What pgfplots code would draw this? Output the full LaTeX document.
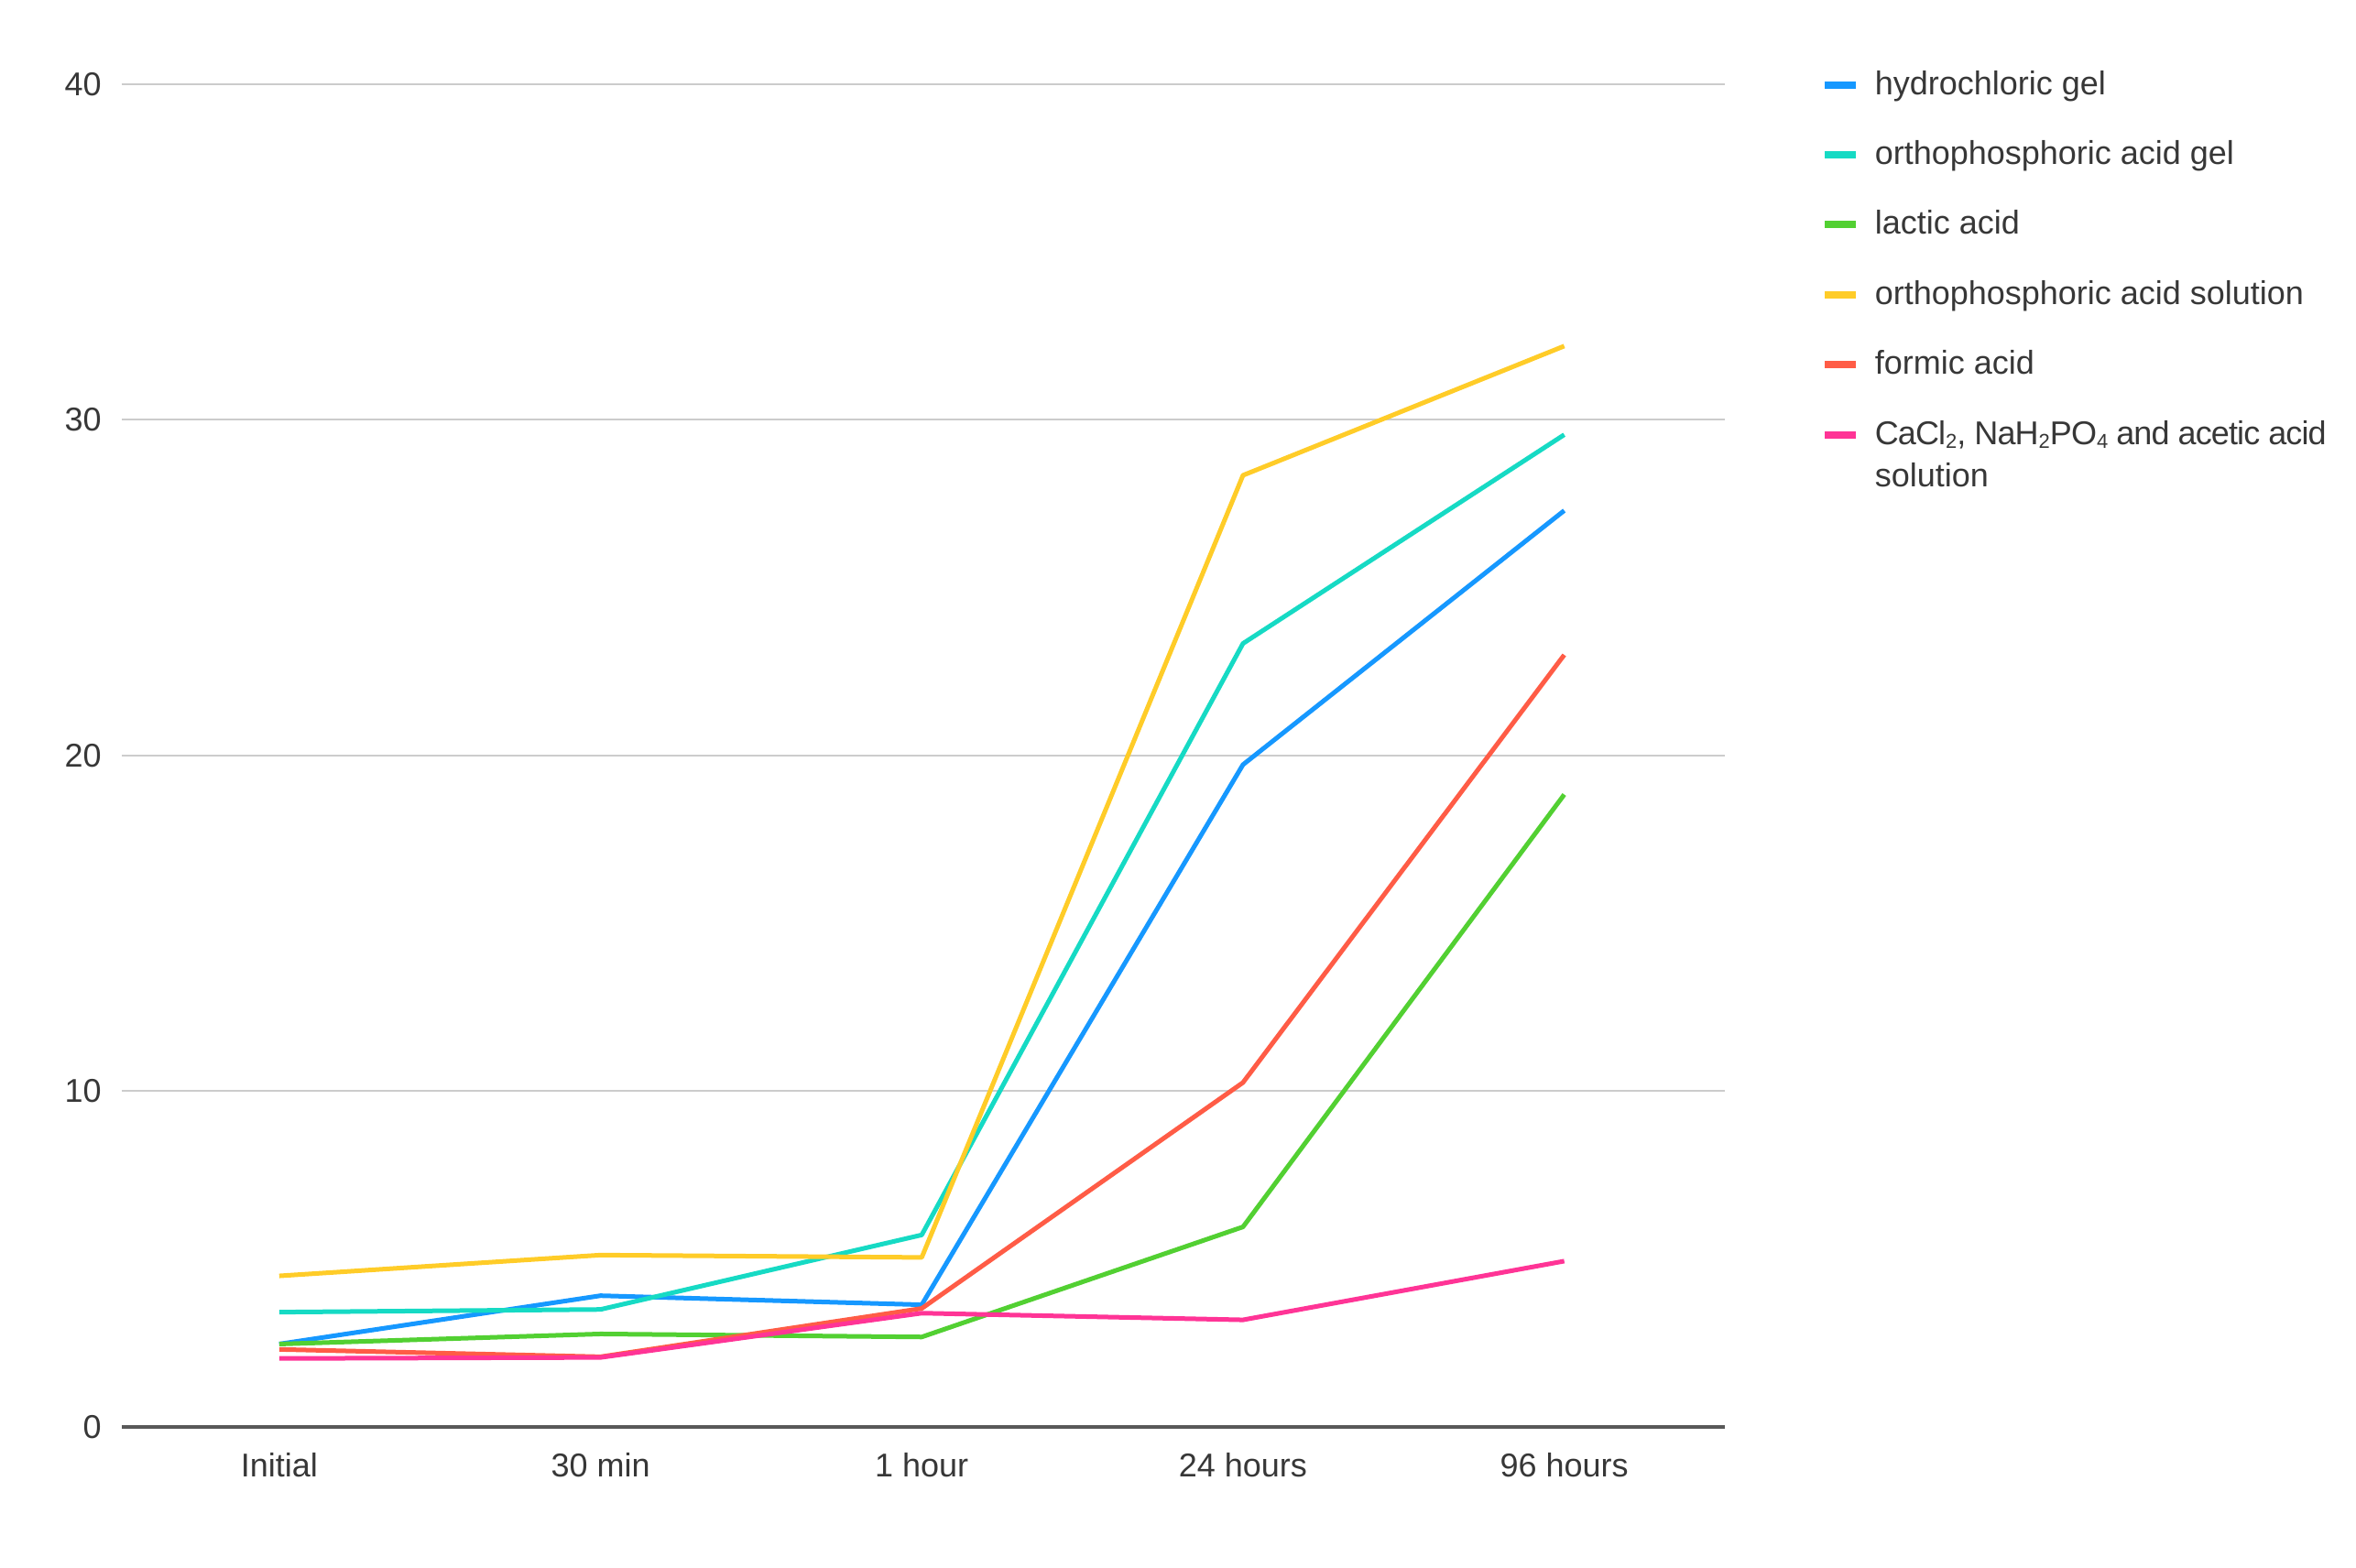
\documentclass[border=0pt]{standalone}
\usepackage{fontspec}
\setmainfont{Liberation Sans}
\usepackage{pgfplots}
\pgfplotsset{compat=1.18}
\definecolor{cblue}{RGB}{22,152,255}
\definecolor{ccyan}{RGB}{22,218,196}
\definecolor{cgreen}{RGB}{82,208,50}
\definecolor{cyellow}{RGB}{255,204,40}
\definecolor{cred}{RGB}{255,92,70}
\definecolor{cpink}{RGB}{255,52,150}
\definecolor{ctext}{RGB}{55,55,55}
\newcommand{\sub}[1]{\raisebox{-1.2pt}{\fontsize{5.5}{6}\selectfont #1}}
\begin{document}
\begin{tikzpicture}
\begin{axis}[
  scale only axis, width=437.5pt, height=366.5pt,
  at={(0,0)}, anchor=south west,
  xmin=-0.49, xmax=4.5, ymin=0, ymax=40,
  axis line style={draw=none},
  major tick length=0pt,
  xtick={0,1,2,3,4},
  xticklabels={Initial,30 min,1 hour,24 hours,96 hours},
  ytick={10,20,30,40},
  extra y ticks={0},
  extra y tick style={grid style={draw=black!65, line width=1pt}},
  ymajorgrids,
  grid style={draw=black!20, line width=0.5pt},
  tick label style={font=\fontsize{9}{11}\selectfont, text=ctext},
  /pgf/number format/assume math mode=true,
  yticklabel style={inner sep=0pt, xshift=-5.4pt},
  xticklabel style={inner sep=0pt, yshift=-7pt},
  every axis plot/.append style={line width=1.25pt, mark=none, line join=round},
  legend style={at={(1.06,1.0115)}, anchor=north west, draw=none, fill=none,
    inner sep=0pt, outer sep=0pt, row sep=10.1pt, column sep=4.1pt,
    font=\fontsize{9}{11.7}\selectfont, text=ctext,
    nodes={inner sep=0pt, anchor=base west, text height=7pt, text depth=2pt}},
  legend cell align=left,
  legend image code/.code={\draw[line width=2pt] (0pt,2.65pt) -- (8.6pt,2.65pt);},
]
\addplot[cblue] coordinates {(0,2.47) (1,3.91) (2,3.64) (3,19.73) (4,27.3)};
\addlegendentry{hydrochloric gel}
\addplot[ccyan] coordinates {(0,3.42) (1,3.5) (2,5.72) (3,23.34) (4,29.56)};
\addlegendentry{orthophosphoric acid gel}
\addplot[cgreen] coordinates {(0,2.47) (1,2.77) (2,2.68) (3,5.96) (4,18.84)};
\addlegendentry{lactic acid}
\addplot[cyellow] coordinates {(0,4.5) (1,5.12) (2,5.05) (3,28.35) (4,32.2)};
\addlegendentry{orthophosphoric acid solution}
\addplot[cred] coordinates {(0,2.31) (1,2.09) (2,3.53) (3,10.26) (4,23.0)};
\addlegendentry{formic acid}
\addplot[cpink] coordinates {(0,2.04) (1,2.07) (2,3.39) (3,3.19) (4,4.94)};
\addlegendentry{\begin{tabular}[t]{@{}l@{}}\addfontfeature{LetterSpace=-2.5}CaCl\sub{2}, NaH\sub{2}PO\sub{4} and acetic acid\\solution\end{tabular}}
\end{axis}
\pgfresetboundingbox
\path[use as bounding box] (-33.25pt,-38.5pt) rectangle (609.75pt,389.5pt);
\end{tikzpicture}
\end{document}
